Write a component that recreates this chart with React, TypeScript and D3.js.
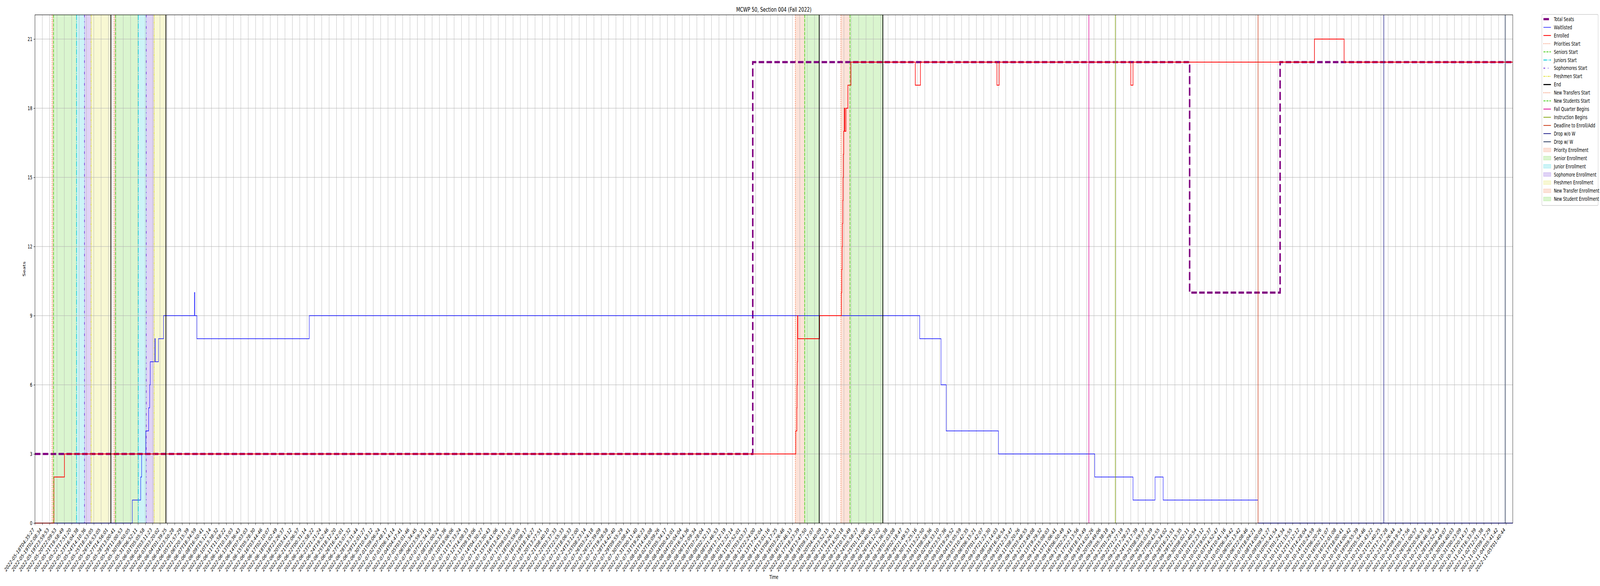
import * as d3 from 'd3';
import React, { useEffect, useRef } from 'react';

// x positions are sample positions along the axis (one unit = one tick)
const tickLabels = [
  '2022-05-18T04:35:27', '2022-05-19T02:08:34', '2022-05-19T23:59:53', '2022-05-20T22:09:53', '2022-05-21T19:58:49',
  '2022-05-22T17:51:20', '2022-05-23T16:04:38', '2022-05-24T14:10:36', '2022-05-25T18:53:05', '2022-05-26T16:53:05',
  '2022-05-27T14:56:01', '2022-05-28T13:00:41', '2022-05-29T11:00:53', '2022-05-30T08:50:05', '2022-05-31T06:52:11',
  '2022-06-01T05:05:58', '2022-06-02T03:11:23', '2022-06-03T03:20:02', '2022-06-04T01:39:25', '2022-06-04T23:50:28',
  '2022-06-05T21:57:29', '2022-06-06T20:15:39', '2022-06-07T18:34:59', '2022-06-08T16:50:41', '2022-06-09T15:12:14',
  '2022-06-10T13:38:32', '2022-06-11T11:58:22', '2022-06-12T10:15:03', '2022-06-13T08:36:43', '2022-06-14T07:03:03',
  '2022-06-15T05:28:30', '2022-06-16T03:44:46', '2022-06-17T02:10:07', '2022-06-18T01:02:49', '2022-06-18T23:26:37',
  '2022-06-20T03:41:12', '2022-06-21T02:06:57', '2022-06-22T00:31:14', '2022-06-22T22:58:22', '2022-06-23T21:21:24',
  '2022-06-24T19:52:46', '2022-06-25T18:12:20', '2022-06-26T16:42:01', '2022-06-27T15:07:32', '2022-06-28T13:31:44',
  '2022-06-29T12:01:27', '2022-06-30T10:43:12', '2022-07-01T09:06:24', '2022-07-02T07:48:17', '2022-07-03T06:14:14',
  '2022-07-04T04:47:41', '2022-07-05T03:01:46', '2022-07-06T01:34:45', '2022-07-06T23:59:31', '2022-07-07T22:34:19',
  '2022-07-08T21:00:24', '2022-07-09T20:33:36', '2022-07-10T19:06:06', '2022-07-11T17:33:24', '2022-07-12T14:08:33',
  '2022-07-13T09:19:06', '2022-07-14T04:30:27', '2022-07-14T23:30:43', '2022-07-15T18:41:06', '2022-07-16T13:45:11',
  '2022-07-17T09:03:07', '2022-07-18T03:59:05', '2022-07-18T23:08:17', '2022-07-19T18:16:27', '2022-07-20T13:27:51',
  '2022-07-21T08:40:10', '2022-07-22T03:37:33', '2022-07-22T22:55:33', '2022-07-23T18:06:33', '2022-07-24T13:12:00',
  '2022-07-25T08:23:14', '2022-07-26T03:24:18', '2022-07-26T22:39:09', '2022-07-27T19:28:58', '2022-07-28T14:42:40',
  '2022-07-29T09:55:29', '2022-07-30T05:08:41', '2022-07-31T00:11:40', '2022-07-31T19:26:23', '2022-08-01T14:48:08',
  '2022-08-02T10:09:26', '2022-08-03T05:34:17', '2022-08-04T00:43:01', '2022-08-04T20:04:04', '2022-08-05T16:54:36',
  '2022-08-06T12:09:34', '2022-08-07T07:28:04', '2022-08-08T02:32:13', '2022-08-08T21:46:53', '2022-08-09T17:12:19',
  '2022-08-10T12:32:14', '2022-08-11T07:52:01', '2022-08-12T03:03:37', '2022-08-12T22:24:00', '2022-08-13T17:42:04',
  '2022-08-14T13:01:16', '2022-08-15T08:17:25', '2022-08-16T03:26:46', '2022-08-16T22:46:13', '2022-08-17T18:23:39',
  '2022-08-18T13:47:50', '2022-08-19T09:17:07', '2022-08-20T04:40:09', '2022-08-20T23:52:15', '2022-08-21T19:26:13',
  '2022-08-22T14:50:18', '2022-08-23T10:15:49', '2022-08-24T05:58:27', '2022-08-25T01:14:06', '2022-08-25T20:40:40',
  '2022-08-26T16:12:02', '2022-08-27T11:36:38', '2022-08-28T07:03:08', '2022-08-29T02:18:47', '2022-08-29T21:49:53',
  '2022-08-30T17:25:16', '2022-08-31T13:22:50', '2022-09-01T08:58:36', '2022-09-02T04:33:10', '2022-09-02T23:57:36',
  '2022-09-03T19:29:52', '2022-09-04T15:05:59', '2022-09-05T10:42:35', '2022-09-06T06:15:21', '2022-09-07T01:42:07',
  '2022-09-07T21:23:30', '2022-09-08T21:14:03', '2022-09-09T16:56:54', '2022-09-10T12:33:47', '2022-09-11T08:20:26',
  '2022-09-12T03:48:55', '2022-09-12T23:49:08', '2022-09-13T19:29:32', '2022-09-14T15:08:03', '2022-09-15T11:06:41',
  '2022-09-16T06:50:49', '2022-09-17T02:25:41', '2022-09-17T22:13:56', '2022-09-18T18:13:49', '2022-09-19T14:02:26',
  '2022-09-20T09:49:06', '2022-09-21T05:38:18', '2022-09-22T01:29:43', '2022-09-22T21:27:19', '2022-09-23T17:28:23',
  '2022-09-24T13:17:39', '2022-09-25T08:59:37', '2022-09-26T05:03:39', '2022-09-27T00:43:55', '2022-09-27T20:34:02',
  '2022-09-28T16:21:51', '2022-09-29T12:15:35', '2022-09-30T08:02:11', '2022-10-01T03:40:54', '2022-10-01T23:23:12',
  '2022-10-02T19:02:37', '2022-10-03T14:52:47', '2022-10-04T10:41:16', '2022-10-05T06:34:42', '2022-10-06T02:13:42',
  '2022-10-06T22:08:46', '2022-10-07T18:04:21', '2022-10-08T14:00:09', '2022-10-09T09:51:27', '2022-10-10T05:41:54',
  '2022-10-11T01:24:34', '2022-10-11T21:15:55', '2022-10-12T17:12:12', '2022-10-13T14:28:04', '2022-10-14T10:24:59',
  '2022-10-15T06:20:26', '2022-10-16T02:11:07', '2022-10-16T22:01:08', '2022-10-17T18:00:41', '2022-10-18T14:00:42',
  '2022-10-19T09:55:39', '2022-10-20T05:54:46', '2022-10-21T01:43:22', '2022-10-21T21:40:25', '2022-10-22T17:37:28',
  '2022-10-23T13:26:44', '2022-10-24T09:19:54', '2022-10-25T05:17:56', '2022-10-26T01:00:57', '2022-10-26T20:56:51',
  '2022-10-27T16:46:38', '2022-10-28T12:52:43', '2022-10-29T08:49:07', '2022-10-30T04:40:03', '2022-10-31T00:23:09',
  '2022-10-31T20:14:37', '2022-11-01T16:33:39', '2022-11-02T12:51:38', '2022-11-03T09:17:29', '2022-11-04T05:41:42',
  '2022-11-05T01:40:44',
];
const lastSample = 200.94;
const yTicks = [0, 3, 6, 9, 12, 15, 18, 21];

// step series: [position, value] (value holds until next point)
const totalSeats: [number, number][] = [[0, 3], [97.6, 20], [157.0, 10], [169.3, 20]];
const waitlisted: [number, number][] = [
  [0, 0], [13.24, 1], [14.38, 2], [14.51, 3], [15.07, 4], [15.46, 5], [15.6, 6], [15.68, 7],
  [16.3, 8], [16.37, 7], [16.8, 8], [17.49, 9], [21.68, 10], [21.75, 9], [22.02, 8], [37.3, 9],
  [120.3, 8], [123.2, 6], [123.9, 4], [131.0, 3], [144.1, 2], [149.3, 1], [152.3, 2], [153.4, 1], [166.3, 0],
];
const enrolled: [number, number][] = [
  [0, 0], [2.58, 2], [4.01, 3], [103.45, 4], [103.59, 5], [103.62, 6], [103.66, 7], [103.69, 9], [103.73, 8],
  [106.69, 9], [109.65, 10], [109.7, 11], [109.75, 12], [109.79, 13], [109.84, 14], [109.88, 15], [109.92, 16],
  [109.96, 17], [110.05, 18], [110.12, 17], [110.27, 18], [110.53, 19], [110.94, 20], [119.7, 19], [120.4, 20],
  [130.8, 19], [131.1, 20], [149.0, 19], [149.3, 20], [173.97, 21], [178.0, 20],
];

// enrollment windows
const priorityStarts = [2.33, 10.76];
const seniorStarts = [2.53, 10.96];
const juniorStarts = [5.65, 14.05];
const sophomoreStarts = [6.74, 15.14];
const freshmenStarts = [7.64, 16.2];
const passEnds = [10.33, 17.81];
const newTransferStarts = [103.39, 109.58];
const newStudentStarts = [104.66, 110.82];
const newEnds = [106.64, 115.29];

// academic calendar
const calendarLabels = ['Fall Quarter Begins', 'Instruction Begins', 'Deadline to Enroll/Add', 'Drop w/o W', 'Drop w/ W'];
const calendarPositions = [143.3, 146.9, 166.3, 183.4, 199.9];

const C = {
  seats: '#800080',
  wait: '#0000ff',
  enr: '#ff0000',
  prio: '#f26d3d',
  senior: '#44cc11',
  junior: '#00c8d8',
  soph: '#6622d4',
  fresh: '#dede22',
  end: '#000000',
  calendar: ['#dd1199', '#8cab1e', '#cc4422', '#2b2b8f', '#334466'],
};
const DASH = {
  dotted: '2.08,3.44',
  dashed: '7.71,3.33',
  dashdot: '13.33,3.33,2.08,3.33',
  loose: '6.25,10.4,2.08,10.4',
  dashdotdot: '6.25,2.08,2.08,2.08,2.08,2.08',
  seats: '20.6,8.9',
};

const W = 6000;
const H = 1500;
const left = 131;
const right = 5673;
const top = 38;
const bottom = 1339;
const FONT = '"DejaVu Sans", sans-serif';

const App: React.FC = () => {
  const ref = useRef<SVGSVGElement | null>(null);
  // the browser may give a narrower window than asked; stretch the 6000x1500 drawing to fill it
  const vw = typeof window !== 'undefined' ? window.innerWidth : W;
  const vh = typeof window !== 'undefined' ? window.innerHeight : H;

  useEffect(() => {
    if (!ref.current) return;
    const svg = d3.select(ref.current);
    svg.selectAll('*').remove();

    const x = d3.scaleLinear().domain([0, lastSample]).range([left, right]);
    const y = d3.scaleLinear().domain([0, 22.05]).range([bottom, top]);

    svg.append('rect').attr('width', W).attr('height', H).attr('fill', 'white');

    // Spans
    const spans: { from: number; to: number; color: string }[] = [];
    priorityStarts.forEach((s, i) => spans.push({ from: s, to: seniorStarts[i], color: C.prio }));
    seniorStarts.forEach((s, i) => spans.push({ from: s, to: juniorStarts[i], color: C.senior }));
    juniorStarts.forEach((s, i) => spans.push({ from: s, to: sophomoreStarts[i], color: C.junior }));
    sophomoreStarts.forEach((s, i) => spans.push({ from: s, to: freshmenStarts[i], color: C.soph }));
    freshmenStarts.forEach((s, i) => spans.push({ from: s, to: passEnds[i], color: C.fresh }));
    newTransferStarts.forEach((s, i) => spans.push({ from: s, to: newStudentStarts[i], color: C.prio }));
    newStudentStarts.forEach((s, i) => spans.push({ from: s, to: newEnds[i], color: C.senior }));

    svg.append('g')
      .selectAll('rect')
      .data(spans)
      .enter()
      .append('rect')
      .attr('x', (d) => x(d.from))
      .attr('width', (d) => x(d.to) - x(d.from))
      .attr('y', top)
      .attr('height', bottom - top)
      .attr('fill', (d) => d.color)
      .attr('fill-opacity', 0.2)
      .attr('stroke', (d) => d.color)
      .attr('stroke-opacity', 0.2)
      .attr('stroke-width', 1.39);

    // Grid
    const grid = svg.append('g').attr('stroke', '#b0b0b0').attr('stroke-width', 1.11);
    grid.selectAll('.vx')
      .data(d3.range(tickLabels.length))
      .enter()
      .append('line')
      .attr('x1', (d) => x(d))
      .attr('x2', (d) => x(d))
      .attr('y1', top)
      .attr('y2', bottom);
    grid.selectAll('.hy')
      .data(yTicks)
      .enter()
      .append('line')
      .attr('x1', left)
      .attr('x2', right)
      .attr('y1', (d) => y(d))
      .attr('y2', (d) => y(d));

    // Data lines
    const step = d3.line<[number, number]>()
      .x((d) => x(d[0]))
      .y((d) => y(d[1]))
      .curve(d3.curveStepAfter);
    const extend = (s: [number, number][]): [number, number][] => [...s, [lastSample, s[s.length - 1][1]]];

    svg.append('path').datum(extend(totalSeats)).attr('d', step)
      .attr('fill', 'none').attr('stroke', C.seats).attr('stroke-width', 5.56).attr('stroke-dasharray', DASH.seats);
    svg.append('path').datum(extend(waitlisted)).attr('d', step)
      .attr('fill', 'none').attr('stroke', C.wait).attr('stroke-width', 1.39);
    svg.append('path').datum(extend(enrolled)).attr('d', step)
      .attr('fill', 'none').attr('stroke', C.enr).attr('stroke-width', 2.08);

    // Event lines
    const vlines: { at: number; color: string; dash: string | null; width: number }[] = [];
    priorityStarts.forEach((s) => vlines.push({ at: s, color: C.prio, dash: DASH.dotted, width: 2.08 }));
    seniorStarts.forEach((s) => vlines.push({ at: s, color: C.senior, dash: DASH.dashed, width: 2.08 }));
    juniorStarts.forEach((s) => vlines.push({ at: s, color: C.junior, dash: DASH.dashdot, width: 2.08 }));
    sophomoreStarts.forEach((s) => vlines.push({ at: s, color: C.soph, dash: DASH.loose, width: 2.08 }));
    freshmenStarts.forEach((s) => vlines.push({ at: s, color: C.fresh, dash: DASH.dashdotdot, width: 2.08 }));
    [...passEnds, ...newEnds].forEach((s) => vlines.push({ at: s, color: C.end, dash: null, width: 2.78 }));
    newTransferStarts.forEach((s) => vlines.push({ at: s, color: C.prio, dash: DASH.dotted, width: 2.08 }));
    newStudentStarts.forEach((s) => vlines.push({ at: s, color: C.senior, dash: DASH.dashed, width: 2.08 }));
    calendarPositions.forEach((s, i) => vlines.push({ at: s, color: C.calendar[i], dash: null, width: 2.08 }));

    svg.append('g')
      .selectAll('line')
      .data(vlines)
      .enter()
      .append('line')
      .attr('x1', (d) => x(d.at))
      .attr('x2', (d) => x(d.at))
      .attr('y1', top)
      .attr('y2', bottom)
      .attr('stroke', (d) => d.color)
      .attr('stroke-width', (d) => d.width)
      .attr('stroke-dasharray', (d) => d.dash);

    // Axes
    const xAxis = svg.append('g')
      .attr('transform', `translate(0,${bottom})`)
      .call(
        d3.axisBottom(x)
          .tickValues(d3.range(tickLabels.length))
          .tickFormat((d) => tickLabels[d as number])
          .tickSizeInner(4.9)
          .tickSizeOuter(0),
      );
    xAxis.select('.domain').remove();
    xAxis.selectAll('line').attr('stroke', 'black').attr('stroke-width', 1.11);
    xAxis.selectAll('text')
      .attr('y', null)
      .attr('dy', null)
      .attr('text-anchor', 'end')
      .attr('transform', 'translate(-2,18) rotate(-45)')
      .attr('font-family', FONT)
      .attr('font-size', 13.9)
      .attr('fill', 'black');

    const yAxis = svg.append('g')
      .attr('transform', `translate(${left},0)`)
      .call(d3.axisLeft(y).tickValues(yTicks).tickSizeInner(4.9).tickSizeOuter(0).tickPadding(4.9));
    yAxis.select('.domain').remove();
    yAxis.selectAll('line').attr('stroke', 'black').attr('stroke-width', 1.11);
    yAxis.selectAll('text').attr('font-family', FONT).attr('font-size', 13.9).attr('fill', 'black');

    // Frame
    svg.append('rect')
      .attr('x', left).attr('y', top)
      .attr('width', right - left).attr('height', bottom - top)
      .attr('fill', 'none').attr('stroke', 'black').attr('stroke-width', 1.11);

    // Titles
    svg.append('text')
      .attr('x', (left + right) / 2).attr('y', top - 8.3)
      .attr('text-anchor', 'middle')
      .attr('font-family', FONT).attr('font-size', 16.7)
      .text('MCWP 50, Section 004 (Fall 2022)');
    svg.append('text')
      .attr('x', (left + right) / 2).attr('y', 1482)
      .attr('text-anchor', 'middle')
      .attr('font-family', FONT).attr('font-size', 13.9)
      .text('Time');
    svg.append('text')
      .attr('transform', `translate(95,${(top + bottom) / 2}) rotate(-90)`)
      .attr('text-anchor', 'middle')
      .attr('font-family', FONT).attr('font-size', 13.9)
      .text('Seats');

    // Legend
    type Item = { label: string; color: string; kind: 'line' | 'patch'; width?: number; dash?: string };
    const items: Item[] = [
      { label: 'Total Seats', color: C.seats, kind: 'line', width: 5.56, dash: DASH.seats },
      { label: 'Waitlisted', color: C.wait, kind: 'line', width: 1.39 },
      { label: 'Enrolled', color: C.enr, kind: 'line', width: 2.08 },
      { label: 'Priorities Start', color: C.prio, kind: 'line', width: 2.08, dash: DASH.dotted },
      { label: 'Seniors Start', color: C.senior, kind: 'line', width: 2.08, dash: DASH.dashed },
      { label: 'Juniors Start', color: C.junior, kind: 'line', width: 2.08, dash: DASH.dashdot },
      { label: 'Sophomores Start', color: C.soph, kind: 'line', width: 2.08, dash: DASH.loose },
      { label: 'Freshmen Start', color: C.fresh, kind: 'line', width: 2.08, dash: DASH.dashdotdot },
      { label: 'End', color: C.end, kind: 'line', width: 2.78 },
      { label: 'New Transfers Start', color: C.prio, kind: 'line', width: 2.08, dash: DASH.dotted },
      { label: 'New Students Start', color: C.senior, kind: 'line', width: 2.08, dash: DASH.dashed },
      ...calendarLabels.map((l, i) => ({ label: l, color: C.calendar[i], kind: 'line' as const, width: 2.08 })),
      { label: 'Priority Enrollment', color: C.prio, kind: 'patch' },
      { label: 'Senior Enrollment', color: C.senior, kind: 'patch' },
      { label: 'Junior Enrollment', color: C.junior, kind: 'patch' },
      { label: 'Sophomore Enrollment', color: C.soph, kind: 'patch' },
      { label: 'Freshmen Enrollment', color: C.fresh, kind: 'patch' },
      { label: 'New Transfer Enrollment', color: C.prio, kind: 'patch' },
      { label: 'New Student Enrollment', color: C.senior, kind: 'patch' },
    ];
    const lx = 5782;
    const ly = 37;
    const pitch = 20.93;
    const legend = svg.append('g');
    legend.append('rect')
      .attr('x', lx).attr('y', ly).attr('width', 211).attr('height', 489)
      .attr('rx', 3).attr('fill', 'white').attr('fill-opacity', 0.8)
      .attr('stroke', '#cccccc').attr('stroke-width', 1.39);
    items.forEach((it, i) => {
      const cy = ly + 12 + i * pitch;
      const row = legend.append('g');
      if (it.kind === 'line') {
        row.append('line')
          .attr('x1', lx + 6).attr('x2', lx + 34).attr('y1', cy).attr('y2', cy)
          .attr('stroke', it.color).attr('stroke-width', it.width!)
          .attr('stroke-dasharray', it.dash ?? null);
      } else {
        row.append('rect')
          .attr('x', lx + 6).attr('y', cy - 4.9).attr('width', 27.8).attr('height', 9.7)
          .attr('fill', it.color).attr('fill-opacity', 0.2)
          .attr('stroke', it.color).attr('stroke-opacity', 0.2).attr('stroke-width', 1.39);
      }
      row.append('text')
        .attr('x', lx + 45).attr('y', cy)
        .attr('dy', '0.35em')
        .attr('font-family', FONT).attr('font-size', 13.9)
        .text(it.label);
    });
  }, []);

  return (
    <svg
      ref={ref}
      width={vw}
      height={vh}
      viewBox={`0 0 ${W} ${H}`}
      preserveAspectRatio="none"
      style={{ position: 'absolute', left: 0, top: 0, display: 'block' }}
    />
  );
};

export default App;
